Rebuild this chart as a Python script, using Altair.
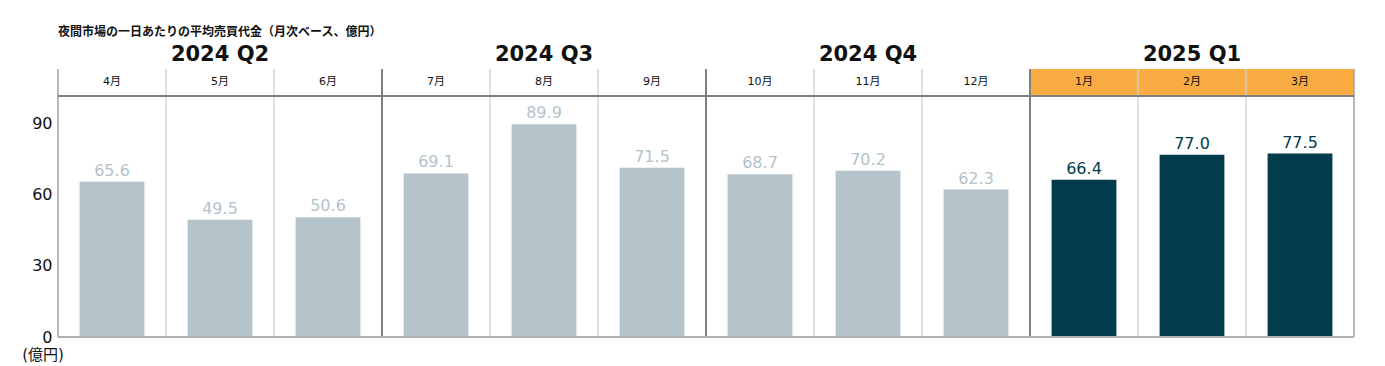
import altair as alt
import pandas as pd

title_text = "夜間市場の一日あたりの平均売買代金（月次ベース、億円）"
unit_text = "(億円)"
months = ["4月", "5月", "6月", "7月", "8月", "9月", "10月", "11月", "12月", "1月", "2月", "3月"]
values = [65.6, 49.5, 50.6, 69.1, 89.9, 71.5, 68.7, 70.2, 62.3, 66.4, 77.0, 77.5]
quarters = ["2024 Q2", "2024 Q3", "2024 Q4", "2025 Q1"]
highlight_quarter = "2025 Q1"
y_ticks = [0, 30, 60, 90]

FONT = "DejaVu Sans, Noto Sans CJK JP"
GREY = "#b3c3c9"
DARK = "#023b4b"
ORANGE = "#f9ac42"

df = pd.DataFrame({
    "idx": list(range(len(months))),
    "month": months,
    "value": values,
    "quarter": [quarters[i // 3] for i in range(len(months))],
})
df["hl"] = df["quarter"] == highlight_quarter

sep = pd.DataFrame({"pos": list(range(len(months) + 1))})
sep["kind"] = ["edge" if p in (0, len(months)) else ("quarter" if p % 3 == 0 else "month") for p in sep["pos"]]

xs = alt.Scale(domain=[0, len(months)], nice=False, zero=False)
ys = alt.Scale(domain=[0, 113.2], nice=False, zero=True)

base = alt.Chart(df).transform_calculate(
    x0="datum.idx + 0.2", x1="datum.idx + 0.8", xc="datum.idx + 0.5", xe="datum.idx + 1"
)

band = base.transform_filter("datum.hl").mark_rect(color=ORANGE).encode(
    x=alt.X("idx:Q", scale=xs, axis=None), x2="xe:Q",
    y=alt.value(0), y2=alt.value(27),
)

bars = base.mark_rect().encode(
    x=alt.X("x0:Q", scale=xs, axis=None),
    x2="x1:Q",
    y=alt.Y("value:Q", scale=ys, axis=alt.Axis(values=y_ticks, ticks=False, grid=False, domain=False,
                                               title=None, labelFontSize=16, labelColor="#111",
                                               labelFont=FONT, labelPadding=6)),
    y2=alt.datum(0),
    color=alt.Color("hl:N", scale=alt.Scale(domain=[False, True], range=[GREY, DARK]), legend=None),
)

labels = base.mark_text(baseline="bottom", dy=-3, fontSize=16, font=FONT).encode(
    x=alt.X("xc:Q", scale=xs), y=alt.Y("value:Q", scale=ys),
    text=alt.Text("value:Q", format=".1f"),
    color=alt.Color("hl:N", scale=alt.Scale(domain=[False, True], range=["#b4c3ca", "#0d3d4d"]), legend=None),
)

month_labels = base.mark_text(baseline="middle", fontSize=11, font=FONT, color="#111").encode(
    x=alt.X("xc:Q", scale=xs), y=alt.value(13), text="month:N",
)

quarter_labels = base.transform_aggregate(
    center="mean(xc)", groupby=["quarter"]
).mark_text(baseline="middle", fontSize=21, fontWeight="bold", font=FONT, color="#111").encode(
    x=alt.X("center:Q", scale=xs), y=alt.value(-14), text="quarter:N",
)

sep_base = alt.Chart(sep)
month_seps = sep_base.transform_filter("datum.kind == 'month'").mark_rule(color="#d0d0d0", strokeWidth=1.5, opacity=0.9).encode(
    x=alt.X("pos:Q", scale=xs), y=alt.value(0), y2=alt.value(268),
)
edge_seps = sep_base.transform_filter("datum.kind == 'edge'").mark_rule(color="#a0a0a0", strokeWidth=1.5).encode(
    x=alt.X("pos:Q", scale=xs), y=alt.value(0), y2=alt.value(268),
)
quarter_seps = sep_base.transform_filter("datum.kind == 'quarter'").mark_rule(color="#808080", strokeWidth=2).encode(
    x=alt.X("pos:Q", scale=xs), y=alt.value(0), y2=alt.value(268),
)

header_line = alt.Chart(sep).mark_rule(color="#808080", strokeWidth=2).encode(
    x=alt.value(0), x2=alt.value(1296), y=alt.value(27),
)
bottom_line = alt.Chart(sep).mark_rule(color="#b0b0b0", strokeWidth=1.5).encode(
    x=alt.value(0), x2=alt.value(1296), y=alt.value(268),
)

title = alt.Chart(pd.DataFrame({"t": [title_text]})).mark_text(
    align="left", baseline="middle", fontSize=12, fontWeight="bold", font="Noto Sans CJK JP", color="#111"
).encode(x=alt.value(0), y=alt.value(-37), text="t:N")

unit = alt.Chart(pd.DataFrame({"t": [unit_text]})).mark_text(
    align="center", baseline="middle", fontSize=15, font=FONT, color="#111"
).encode(x=alt.value(-15), y=alt.value(286), text="t:N")

chart = alt.layer(
    band, bars, labels, month_seps, edge_seps, quarter_seps, header_line, bottom_line,
    month_labels, quarter_labels, title, unit
).properties(
    width=1296, height=268,
    padding={"left": 50, "top": 61, "right": 23, "bottom": 28},
    autosize=alt.AutoSizeParams(type="none"),
).configure_view(stroke=None)

chart.save("out.html", embed_options={"renderer": "svg", "actions": False})
